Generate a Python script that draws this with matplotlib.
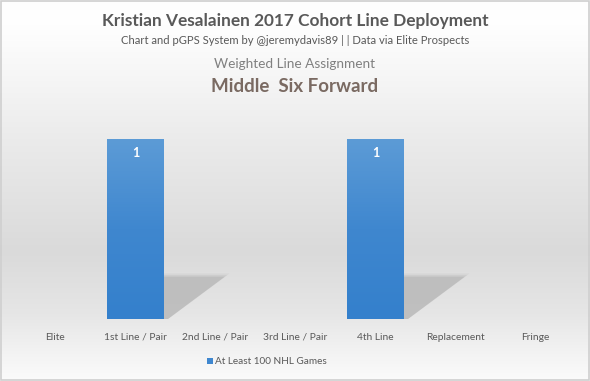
import numpy as np
import matplotlib
matplotlib.use("Agg")
import matplotlib.pyplot as plt
from matplotlib.patches import Polygon, Rectangle
from matplotlib.colors import LinearSegmentedColormap

categories = ["Elite", "1st Line / Pair", "2nd Line / Pair", "3rd Line / Pair",
              "4th Line", "Replacement", "Fringe"]
values = [0, 1, 0, 0, 1, 0, 0]
series_name = "At Least 100 NHL Games"
title = "Kristian Vesalainen 2017 Cohort Line Deployment"
subtitle = "Chart and pGPS System by @jeremydavis89 | | Data via Elite Prospects"
header = "Weighted Line Assignment"
assignment = "Middle  Six Forward"

plt.rcParams['font.family'] = ['Lato', 'DejaVu Sans']

W, H = 590, 381
fig = plt.figure(figsize=(W / 100, H / 100), dpi=100)

# background gradient
bg = fig.add_axes([0, 0, 1, 1], zorder=-10)
bg.set_axis_off()
stops = [(0.0, (1, 1, 1)), (0.08, (0.995, 0.995, 0.995)), (0.35, (0.925, 0.925, 0.925)),
         (0.66, (0.855, 0.855, 0.855)), (0.82, (0.9, 0.9, 0.9)), (1.0, (0.985, 0.985, 0.985))]
bgcm = LinearSegmentedColormap.from_list("bg", stops)
grad = np.linspace(0, 1, 256).reshape(-1, 1)
bg.imshow(grad, aspect="auto", cmap=bgcm, extent=[0, 1, 0, 1], origin="upper")
bg.set_xlim(0, 1); bg.set_ylim(0, 1)
bg.add_patch(Rectangle((0.001, 0.002), 0.997, 0.995, fill=False, ec="#cfcfcf", lw=1.2))

ax = fig.add_axes([15.5 / W, (H - 319) / H, 560 / W, 180 / H])
ax.set_facecolor("none")
x = np.arange(len(categories))
bw = 0.71
ax.set_xlim(-0.5, len(categories) - 0.5)
ax.set_ylim(0, 1)

barcm = LinearSegmentedColormap.from_list("bar", ["#5c9bd6", "#3f87cf", "#3480cc"])
bars = ax.bar(x, values, width=bw, color="none", zorder=3)
for b, v in zip(bars, values):
    if v <= 0:
        continue
    x0 = b.get_x(); x1 = x0 + b.get_width()
    # soft shadow
    for grow, a in [(0.06, 0.2), (0.03, 0.3), (0.0, 0.7)]:
        poly = Polygon([(x1, 0.235 * v + grow * 0.3), (x1 + 0.76 * v + grow, 0.235 * v + grow * 0.3),
                        (x1 + 0.05, 0.0), (x1, 0.0)], closed=True,
                       fc="#b8b8b8", ec="none", alpha=a, zorder=1)
        ax.add_patch(poly)
    im = ax.imshow(np.linspace(0, 1, 100).reshape(-1, 1), cmap=barcm, aspect="auto",
                   extent=[x0, x1, 0, v], origin="upper", zorder=3)
    im.set_clip_path(b)
    ax.text(b.get_x() + b.get_width() / 2, v - 0.08, f"{v}", ha="center", va="center",
            color="white", fontsize=9, fontweight="bold", zorder=4)

ax.set_xticks(x)
ax.set_xticklabels(categories, fontsize=7.4, color="#595959")
ax.tick_params(axis="x", length=0, pad=10)
ax.set_yticks([])
for s in ax.spines.values():
    s.set_visible(False)

fig.text(0.5, 1 - 21 / H, title, ha="center", va="center", fontsize=12.4,
         fontweight="bold", color="#595959")
fig.text(0.5, 1 - 40 / H, subtitle, ha="center", va="center", fontsize=8.1, color="#595959")
fig.text(0.5, 1 - 64 / H, header, ha="center", va="center", fontsize=9.8, color="#808080")
fig.text(0.5, 1 - 86 / H, assignment, ha="center", va="center", fontsize=13.5,
         fontweight="bold", color="#7a6a62")

# legend
fig.patches.append(Rectangle((207 / W, 1 - 364 / H), 6 / W, 6 / H, transform=fig.transFigure,
                             fc="#3f87cf", ec="none", figure=fig))
fig.text(215 / W, 1 - 361 / H, series_name, ha="left", va="center", fontsize=7.2,
         color="#595959")

fig.savefig("out.png", dpi=100)
